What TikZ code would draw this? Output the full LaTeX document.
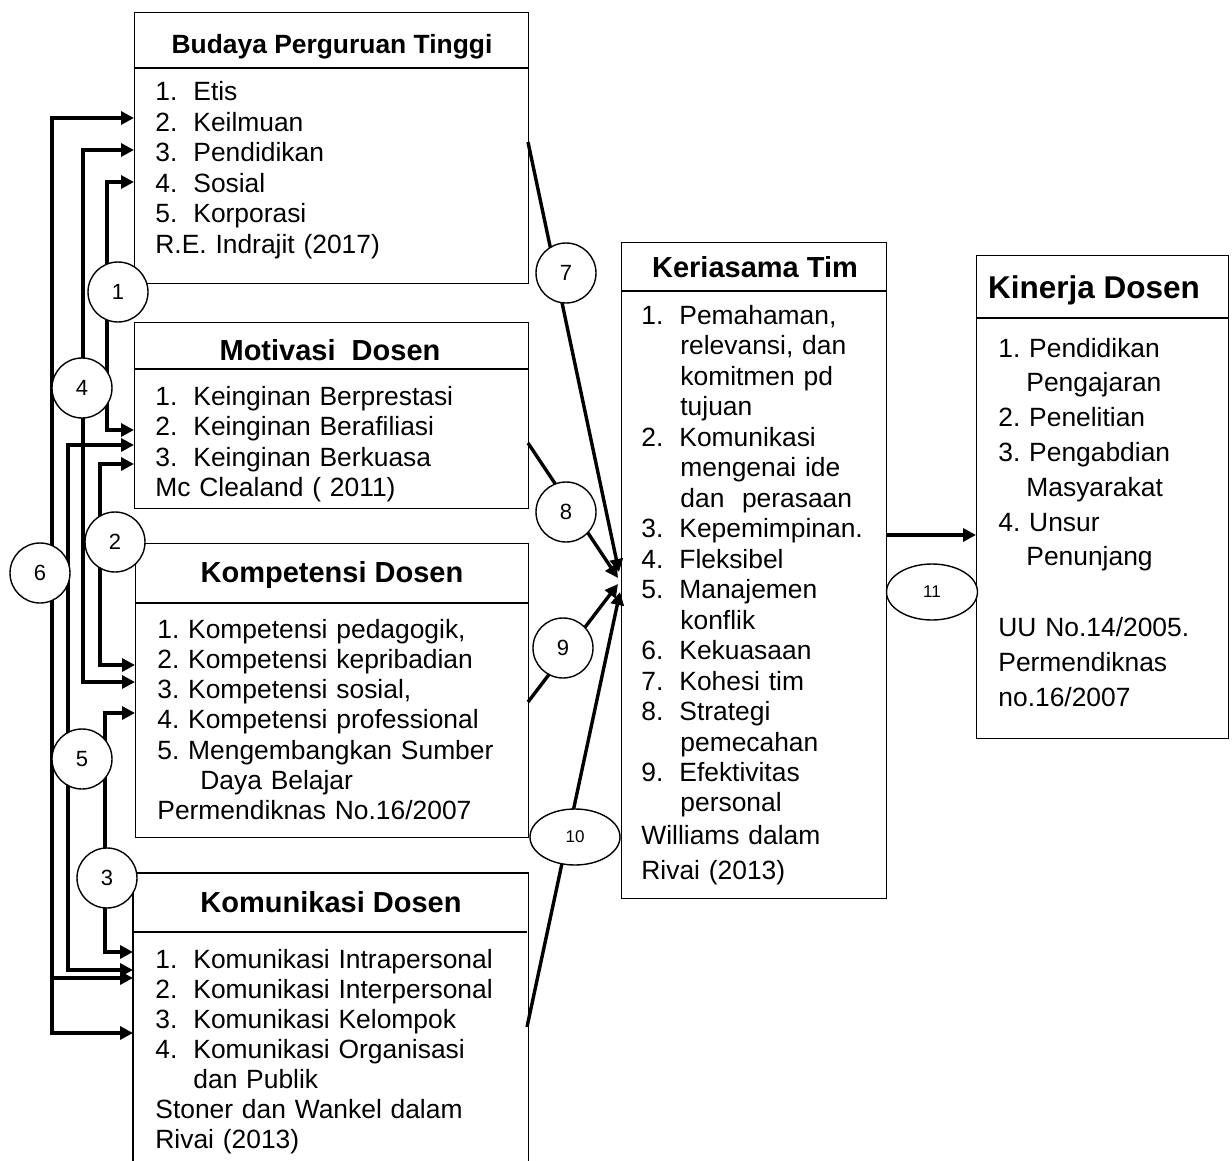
\documentclass[tikz,border=0pt]{standalone}
\usepackage{fontspec}
\setmainfont{Liberation Sans}
\usetikzlibrary{arrows.meta,shapes.geometric}
\newcommand{\bitem}[2]{\makebox[19pt][l]{#1}#2}
\frenchspacing
\begin{document}
\frenchspacing
\begin{tikzpicture}[x=0.5pt,y=-0.5pt,
  box/.style={draw, line width=0.7pt, inner sep=0pt, anchor=north west},
  sepline/.style={line width=0.7pt},
  ttl/.style={font=\fontsize{14.5}{17}\selectfont\bfseries, anchor=base, inner sep=0pt},
  body/.style={font=\fontsize{13.2}{15.25}\selectfont\frenchspacing, anchor=base west, inner sep=0pt, align=left, text width=190pt},
  circ/.style={circle, draw, fill=white, line width=0.7pt, minimum size=30pt, inner sep=0pt, font=\fontsize{11}{13}\selectfont},
  ell/.style={ellipse, draw, fill=white, line width=0.7pt, minimum width=45pt, minimum height=28pt, inner sep=0pt, font=\fontsize{8.5}{10}\selectfont},
  arr/.style={line width=1.7pt, -{Triangle[length=6.5pt,width=6.5pt]}},
  dbl/.style={line width=1.7pt, {Triangle[length=6.5pt,width=6.5pt]}-{Triangle[length=6.5pt,width=6.5pt]}}
]
\useasboundingbox (0,0) rectangle (1232,1161);

% ---------- boxes ----------
\node[box, minimum width=197pt, minimum height=135.5pt] (b1) at (134,12) {};
\draw[sepline] (b1.north west) ++(0,56) -- ++(394,0);
\node[box, minimum width=197pt, minimum height=93pt] (b2) at (134,322) {};
\draw[sepline] (b2.north west) ++(0,47) -- ++(394,0);
\node[box, minimum width=196.5pt, minimum height=147pt] (b3) at (135,543) {};
\draw[sepline] (b3.north west) ++(0,60) -- ++(393,0);
\node[box, draw=none, minimum width=197pt, minimum height=144pt] (b4) at (133,873) {};
\draw[line width=0.7pt] (b4.south west) |- (b4.north east) -- (b4.south east);
\draw[sepline] (b4.north west) ++(0,59) -- ++(394,0);
\node[box, minimum width=132.5pt, minimum height=328pt] (b5) at (621,242) {};
\draw[sepline] (b5.north west) ++(0,49) -- ++(265,0);
\node[box, minimum width=126pt, minimum height=241.5pt] (b6) at (976,255) {};
\draw[sepline] (b6.north west) ++(0,63) -- ++(252,0);

% ---------- titles ----------
\node[ttl, font=\fontsize{13.2}{15}\selectfont\bfseries] (b1t) at (332,54) {Budaya Perguruan Tinggi};
\node[ttl] (b2t) at (330,360) {Motivasi\ \ Dosen};
\node[ttl] (b3t) at (332,582) {Kompetensi Dosen};
\node[ttl] (b4t) at (331,912) {Komunikasi Dosen};
\node[ttl] (b5t) at (755,277) {Keriasama Tim};
\node[ttl, font=\fontsize{15.75}{18}\selectfont\bfseries] (b6t) at (1094,298) {Kinerja Dosen};

% ---------- body texts ----------
\node[body] (b1x) at (155,101) {\bitem{1.}{Etis}\\
\bitem{2.}{Keilmuan}\\
\bitem{3.}{Pendidikan}\\
\bitem{4.}{Sosial}\\
\bitem{5.}{Korporasi}\\
R.E. Indrajit (2017)};

\node[body] (b2x) at (155,405) {\bitem{1.}{Keinginan Berprestasi}\\
\bitem{2.}{Keinginan Berafiliasi}\\
\bitem{3.}{Keinginan Berkuasa}\\
Mc Clealand ( 2011)};

\node[body, font=\fontsize{13.2}{15.15}\selectfont\frenchspacing] (b3x) at (157,638) {1. Kompetensi pedagogik,\\
2. Kompetensi kepribadian\\
3. Kompetensi sosial,\\
4. Kompetensi professional\\
5. Mengembangkan Sumber\\
\hspace*{21.5pt}Daya Belajar\\
Permendiknas No.16/2007};

\node[body, font=\fontsize{13.2}{15}\selectfont\frenchspacing] (b4x) at (155,968) {\bitem{1.}{Komunikasi Intrapersonal}\\
\bitem{2.}{Komunikasi Interpersonal}\\
\bitem{3.}{Komunikasi Kelompok}\\
\bitem{4.}{Komunikasi Organisasi}\\
\hspace*{19pt}dan Publik\\
Stoner dan Wankel dalam\\
Rivai (2013)};

\node[body, text width=125pt] (b5x) at (641,324) {\bitem{1.}{Pemahaman,}\\
\hspace*{19.5pt}relevansi, dan\\
\hspace*{19.5pt}komitmen pd\\
\hspace*{19.5pt}tujuan\\
\bitem{2.}{Komunikasi}\\
\hspace*{19.5pt}mengenai ide\\
\hspace*{19.5pt}dan\ \ perasaan\\
\bitem{3.}{Kepemimpinan.}\\
\bitem{4.}{Fleksibel}\\
\bitem{5.}{Manajemen}\\
\hspace*{19.5pt}konflik\\
\bitem{6.}{Kekuasaan}\\
\bitem{7.}{Kohesi tim}\\
\bitem{8.}{Strategi}\\
\hspace*{19.5pt}pemecahan\\
\bitem{9.}{Efektivitas}\\
\hspace*{19.5pt}personal};
\node[body, text width=125pt, font=\fontsize{13.2}{17.5}\selectfont\frenchspacing] (b5c) at (641,844) {Williams dalam\\
Rivai (2013)};

\node[body, text width=115pt, font=\fontsize{13.2}{17.4}\selectfont\frenchspacing] (b6x) at (998,357) {1. Pendidikan\\
\hspace*{14pt}Pengajaran\\
2. Penelitian\\
3. Pengabdian\\
\hspace*{14pt}Masyarakat\\
4. Unsur\\
\hspace*{14pt}Penunjang\\[18pt]
UU No.14/2005.\\
Permendiknas\\
no.16/2007};

% ---------- connector end points ----------
\coordinate (a1) at (134,118);
\coordinate (a2) at (134,150);
\coordinate (a3) at (134,182);
\coordinate (m1) at (134,430);
\coordinate (m2) at (134,445);
\coordinate (m3) at (134,464);
\coordinate (k1) at (135,665);
\coordinate (k2) at (135,682);
\coordinate (k3) at (135,713);
\coordinate (q1) at (133,952);
\coordinate (q2) at (133,970);
\coordinate (q3) at (133,978);
\coordinate (q4) at (133,1033);
\coordinate (j6) at (52,978);

\coordinate (s7) at (528,142);
\coordinate (s8) at (528,443);
\coordinate (s9) at (528,702);
\coordinate (s10) at (527,1027);
\coordinate (t7) at (619,572);
\coordinate (t8) at (618,578);
\coordinate (t9) at (618,584);
\coordinate (t10) at (620,592);
\coordinate (u1) at (886,535);
\coordinate (u2) at (976,535);

% ---------- left connectors ----------
\draw[dbl] (a1) -- ++(-82,0) |- (q4);
\draw[arr] (j6) -- (q3);
\draw[dbl] (a2) -- ++(-51,0) |- (k2);
\draw[dbl] (a3) -- ++(-27,0) |- (m1);
\draw[dbl] (m2) -- ++(-66,0) |- (q2);
\draw[dbl] (m3) -- ++(-34,0) |- (k1);
\draw[dbl] (k3) -- ++(-30,0) |- (q1);

% ---------- right connectors ----------
\draw[arr] (s7) -- (t7);
\draw[arr] (s8) -- (t8);
\draw[arr] (s9) -- (t9);
\draw[arr] (s10) -- (t10);
\draw[arr] (u1) -- (u2);

% ---------- numbered circles ----------
\node[circ] (n1) at (118,292) {1};
\node[circ] (n2) at (115,542) {2};
\node[circ] (n3) at (107,878) {3};
\node[circ] (n4) at (82,388) {4};
\node[circ] (n5) at (82,759) {5};
\node[circ] (n6) at (40,573) {6};
\node[circ] (n7) at (566,273) {7};
\node[circ] (n8) at (566,512) {8};
\node[circ] (n9) at (563,648) {9};
\node[ell] (n10) at (575,837) {10};
\node[ell, minimum width=45.5pt] (n11) at (932,592) {11};
\end{tikzpicture}
\end{document}
